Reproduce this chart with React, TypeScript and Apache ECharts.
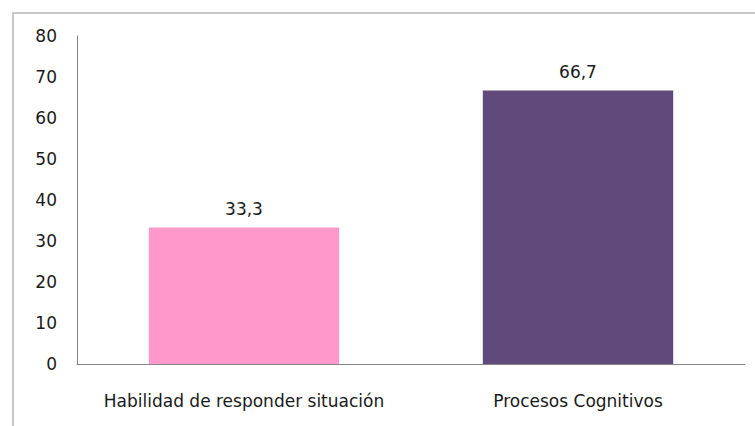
import React, { useEffect, useRef } from "react";
import * as echarts from "echarts";

const categories = ["Habilidad de responder situación", "Procesos Cognitivos"];
const values = [33.3, 66.7];
const barColors = ["#FF99CC", "#604A7B"];
const yTicks = { min: 0, max: 80, interval: 10 };

export default function App() {
  const ref = useRef<HTMLDivElement>(null);
  useEffect(() => {
    const chart = echarts.init(ref.current!, null, { renderer: "svg" });
    chart.setOption({
      animation: false,
      backgroundColor: "#ffffff",
      graphic: [
        {
          type: "rect",
          shape: { x: 13, y: 13, width: 800, height: 500 },
          style: { fill: "none", stroke: "#c8c8c8", lineWidth: 2 },
          silent: true,
        },
      ],
      grid: { left: 77, right: 10, top: 36, bottom: 62, containLabel: false },
      xAxis: {
        type: "category",
        data: categories,
        axisLine: { show: true, lineStyle: { color: "#868686", width: 1 } },
        axisTick: { show: false },
        axisLabel: {
          interval: 0,
          hideOverlap: false,
          color: "#1a1a1a",
          fontFamily: "DejaVu Sans",
          fontSize: 17,
          margin: 28,
        },
      },
      yAxis: {
        type: "value",
        min: yTicks.min,
        max: yTicks.max,
        interval: yTicks.interval,
        axisLine: { show: true, lineStyle: { color: "#868686", width: 1 } },
        axisTick: { show: false },
        splitLine: { show: false },
        axisLabel: {
          color: "#1a1a1a",
          fontFamily: "DejaVu Sans",
          fontSize: 17,
          margin: 20,
        },
      },
      series: [
        {
          type: "bar",
          barWidth: "57%",
          data: values.map((v, i) => ({ value: v, itemStyle: { color: barColors[i] } })),
          label: {
            show: true,
            position: "top",
            distance: 10,
            color: "#1a1a1a",
            fontFamily: "DejaVu Sans",
            fontSize: 17,
            formatter: (p: any) => String(p.value).replace(".", ","),
          },
        },
      ],
    });
    return () => chart.dispose();
  }, []);
  return (
    <div
      ref={ref}
      style={{ position: "fixed", left: 0, top: 0, width: 755, height: 426 }}
    />
  );
}
